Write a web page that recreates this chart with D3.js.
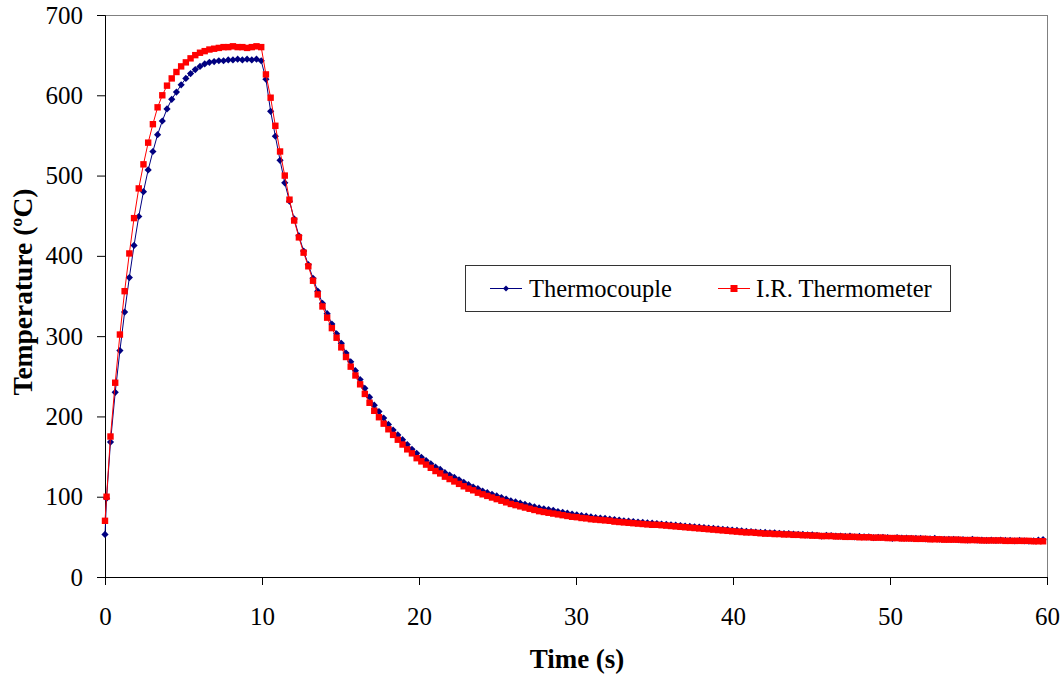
<!DOCTYPE html>
<html>
<head>
<meta charset="utf-8">
<script src="https://cdnjs.cloudflare.com/ajax/libs/d3/7.8.5/d3.min.js"></script>
<style>
    body { margin: 0; background: #fff; }
    svg text { font-family: "Liberation Serif", "Times New Roman", Times, serif; }
</style>
</head>
<body>
<div id="chart-area"></div>
<script>
// sample times (s)
var times = [
    0, 0.1,
    0.35, 0.65, 0.95, 1.25, 1.55, 1.85, 2.15, 2.45, 2.75, 3.05,
    3.35, 3.65, 3.95, 4.25, 4.55, 4.85, 5.15, 5.45, 5.75, 6.05,
    6.35, 6.65, 6.95, 7.25, 7.55, 7.85, 8.15, 8.45, 8.75, 9.05,
    9.35, 9.65, 9.95, 10.25, 10.55, 10.85, 11.15, 11.45, 11.75, 12.05,
    12.35, 12.65, 12.95, 13.25, 13.55, 13.85, 14.15, 14.45, 14.75, 15.05,
    15.35, 15.65, 15.95, 16.25, 16.55, 16.85, 17.15, 17.45, 17.75, 18.05,
    18.35, 18.65, 18.95, 19.25, 19.55, 19.85, 20.15, 20.45, 20.75, 21.05,
    21.35, 21.65, 21.95, 22.25, 22.55, 22.85, 23.15, 23.45, 23.75, 24.05,
    24.35, 24.65, 24.95, 25.25, 25.55, 25.85, 26.15, 26.45, 26.75, 27.05,
    27.35, 27.65, 27.95, 28.25, 28.55, 28.85, 29.15, 29.45, 29.75, 30.05,
    30.35, 30.65, 30.95, 31.25, 31.55, 31.85, 32.15, 32.45, 32.75, 33.05,
    33.35, 33.65, 33.95, 34.25, 34.55, 34.85, 35.15, 35.45, 35.75, 36.05,
    36.35, 36.65, 36.95, 37.25, 37.55, 37.85, 38.15, 38.45, 38.75, 39.05,
    39.35, 39.65, 39.95, 40.25, 40.55, 40.85, 41.15, 41.45, 41.75, 42.05,
    42.35, 42.65, 42.95, 43.25, 43.55, 43.85, 44.15, 44.45, 44.75, 45.05,
    45.35, 45.65, 45.95, 46.25, 46.55, 46.85, 47.15, 47.45, 47.75, 48.05,
    48.35, 48.65, 48.95, 49.25, 49.55, 49.85, 50.15, 50.45, 50.75, 51.05,
    51.35, 51.65, 51.95, 52.25, 52.55, 52.85, 53.15, 53.45, 53.75, 54.05,
    54.35, 54.65, 54.95, 55.25, 55.55, 55.85, 56.15, 56.45, 56.75, 57.05,
    57.35, 57.65, 57.95, 58.25, 58.55, 58.85, 59.15, 59.45, 59.75
];

var thermocouple = [
    53, 98,
    168, 230, 282, 330, 373, 413, 449, 480, 507, 530,
    551, 568, 583, 595, 604, 613, 621, 627, 632, 636,
    639, 641, 642, 643, 643, 644, 644, 645, 644, 645,
    644, 645, 643, 620, 580, 549, 519, 491, 468, 446,
    425, 406, 389, 372, 356, 341, 328, 315, 303, 291,
    279, 268, 257, 246, 235, 224, 214, 206, 198, 190,
    183, 177, 171, 165, 159, 154, 149, 145, 141, 137,
    134, 130, 127, 124, 121, 118, 115, 112, 110, 107,
    105, 103, 101, 99, 97, 95, 93.5, 92, 90.5, 89,
    87.5, 86, 85, 84, 83, 81.5, 80.5, 79.5, 78.5, 77.5,
    76.5, 76, 75, 74, 73.5, 73, 72, 71.5, 71, 70,
    69.5, 69, 68.5, 68, 67.5, 67, 66.5, 66, 65.5, 65,
    64.5, 64, 63.5, 63, 62.5, 62, 61.5, 61, 60.5, 60,
    59.5, 59, 58.5, 58, 57.5, 57, 56.5, 56, 55.5, 55.5,
    55, 55, 54.5, 54, 54, 53.5, 53, 53, 52.5, 52.5,
    52, 51, 52, 51.5, 51, 51, 50.5, 51, 50, 50.5,
    50, 50, 49, 49.5, 49.5, 49, 48, 49, 48.5, 48.5,
    48, 48, 48, 47.5, 47.5, 48, 47, 47, 47, 47,
    46.5, 46.5, 46, 47, 46, 46, 45.5, 46, 45.5, 46,
    45.5, 45.5, 45, 45.5, 45, 44.5, 45, 46, 46.5
];

var irThermometer = [
    70, 100,
    175, 242, 302, 356, 403, 447, 484, 514, 541, 564,
    585, 600, 612, 621, 629, 636, 641, 646, 650, 653,
    655, 657, 658, 659, 660, 660, 661, 660, 660, 659,
    660, 661, 660, 626, 597, 562, 530, 500, 470, 444,
    423, 404, 387, 369, 352, 337, 323, 310, 298, 286,
    274, 262, 251, 240, 228, 217, 207, 199, 191, 184,
    177, 171, 165, 159, 154, 148, 144, 140, 136, 132,
    129, 125, 122, 119, 116, 113, 110, 108, 105, 103,
    101, 99, 97, 95, 93, 91, 89.5, 88, 86.5, 85,
    83.5, 82, 81, 80, 79, 78, 77, 76, 75, 74.5,
    73.5, 73, 72, 71.5, 71, 70.5, 70, 69, 68.5, 68,
    67.5, 67, 66.5, 66, 65.5, 65, 65, 64.5, 64, 63.5,
    63, 62.5, 62, 61.5, 61, 60.5, 60, 59.5, 59, 58.5,
    58, 57.5, 57, 56.5, 56, 55.5, 55.5, 55, 54.5, 54,
    54, 53.5, 53.5, 53, 53, 52.5, 52.5, 52, 52, 51.5,
    51.5, 51, 51, 51, 50.5, 50.5, 50, 50, 50, 49.5,
    49.5, 49.5, 49, 49, 49, 48.5, 48.5, 48.5, 48, 48,
    48, 47.5, 47.5, 47.5, 47, 47, 47, 46.5, 46.5, 46.5,
    46.5, 46, 46, 46, 46, 45.5, 45.5, 45.5, 45.5, 45.5,
    45, 45, 45, 45, 45, 45, 44.5, 44.5, 44.5
];

var xTicks = [0, 10, 20, 30, 40, 50, 60];
var yTicks = [0, 100, 200, 300, 400, 500, 600, 700];
var seriesNames = ['Thermocouple', 'I.R. Thermometer'];

var serif = '"Liberation Serif", "Times New Roman", Times, serif';

var margins = {
    top: 15,
    bottom: 104,
    left: 105,
    right: 17,
}

var width = 1064 - margins.left - margins.right;
var height = 681 - margins.top - margins.bottom;

var blue = '#000080';
var red = '#ff0000';

var svg = d3.select('#chart-area')
        .append('svg')
        .attr('width', 1064)
        .attr('height', 681)
        .attr('font-family', serif);

var g = svg.append('g')
        .attr('transform', `translate(${margins.left}, ${margins.top})`);

var x = d3.scaleLinear()
        .domain([0, 60])
        .range([0, width]);

var y = d3.scaleLinear()
        .domain([0, 700])
        .range([height, 0]);

// plot area frame (top / right edges show in grey)
g.append('rect')
    .attr('x', 0.5)
    .attr('y', 0.5)
    .attr('width', width)
    .attr('height', height)
    .attr('fill', 'none')
    .attr('stroke', '#808080');

var xAxisCall = d3.axisBottom(x).tickValues(xTicks).tickSize(8).tickPadding(22);
var yAxisCall = d3.axisLeft(y).tickValues(yTicks).tickSize(8).tickPadding(14);

var xAxis = g.append('g')
    .attr('class', 'x-axis')
    .attr('transform', `translate(0, ${height})`)
    .call(xAxisCall);
var yAxis = g.append('g')
    .attr('class', 'y-axis')
    .call(yAxisCall);

[xAxis, yAxis].forEach(ax => {
    ax.attr('font-family', serif);
    ax.selectAll('path, line').attr('stroke', '#000');
    ax.selectAll('text')
        .attr('font-size', '25px')
        .attr('fill', '#000');
});

var blueData = times.map((t, i) => ({ t: t, v: thermocouple[i] }));
var redData = times.map((t, i) => ({ t: t, v: irThermometer[i] }));

var line = d3.line()
    .x(d => x(d.t))
    .y(d => y(d.v));

var diamond = 'M0,-3.6L3.6,0L0,3.6L-3.6,0Z';

// thermocouple
g.append('path')
    .datum(blueData)
    .attr('d', line)
    .attr('fill', 'none')
    .attr('stroke', blue)
    .attr('stroke-width', 1);

g.selectAll('.tc')
    .data(blueData)
    .enter()
    .append('path')
    .attr('class', 'tc')
    .attr('transform', d => `translate(${x(d.t)}, ${y(d.v)})`)
    .attr('d', diamond)
    .attr('fill', blue);

// IR thermometer
g.append('path')
    .datum(redData)
    .attr('d', line)
    .attr('fill', 'none')
    .attr('stroke', red)
    .attr('stroke-width', 1);

g.selectAll('.ir')
    .data(redData)
    .enter()
    .append('rect')
    .attr('class', 'ir')
    .attr('x', d => x(d.t) - 3.2)
    .attr('y', d => y(d.v) - 3.2)
    .attr('width', 6.4)
    .attr('height', 6.4)
    .attr('fill', red);

// axis titles
svg.append('text')
    .attr('x', 577)
    .attr('y', 668)
    .attr('font-size', '27px')
    .attr('font-weight', 'bold')
    .attr('text-anchor', 'middle')
    .text('Time (s)');

svg.append('text')
    .attr('transform', 'translate(32, 292) rotate(-90)')
    .attr('font-size', '27.5px')
    .attr('font-weight', 'bold')
    .attr('text-anchor', 'middle')
    .text('Temperature (ºC)');

// legend
var legend = svg.append('g');

legend.append('rect')
    .attr('x', 465.5)
    .attr('y', 265.5)
    .attr('width', 485)
    .attr('height', 46)
    .attr('fill', '#fff')
    .attr('stroke', '#333');

legend.append('line')
    .attr('x1', 490).attr('x2', 522)
    .attr('y1', 288.5).attr('y2', 288.5)
    .attr('stroke', blue);
legend.append('path')
    .attr('transform', 'translate(506, 288.5)')
    .attr('d', 'M0,-3L3,0L0,3L-3,0Z')
    .attr('fill', blue);
legend.append('text')
    .attr('x', 529)
    .attr('y', 297)
    .attr('font-size', '24.5px')
    .text(seriesNames[0]);

legend.append('line')
    .attr('x1', 718).attr('x2', 750)
    .attr('y1', 288.5).attr('y2', 288.5)
    .attr('stroke', red);
legend.append('rect')
    .attr('x', 730.5).attr('y', 285)
    .attr('width', 7).attr('height', 7)
    .attr('fill', red);
legend.append('text')
    .attr('x', 756)
    .attr('y', 297)
    .attr('font-size', '24.5px')
    .text(seriesNames[1]);
</script>
</body>
</html>
